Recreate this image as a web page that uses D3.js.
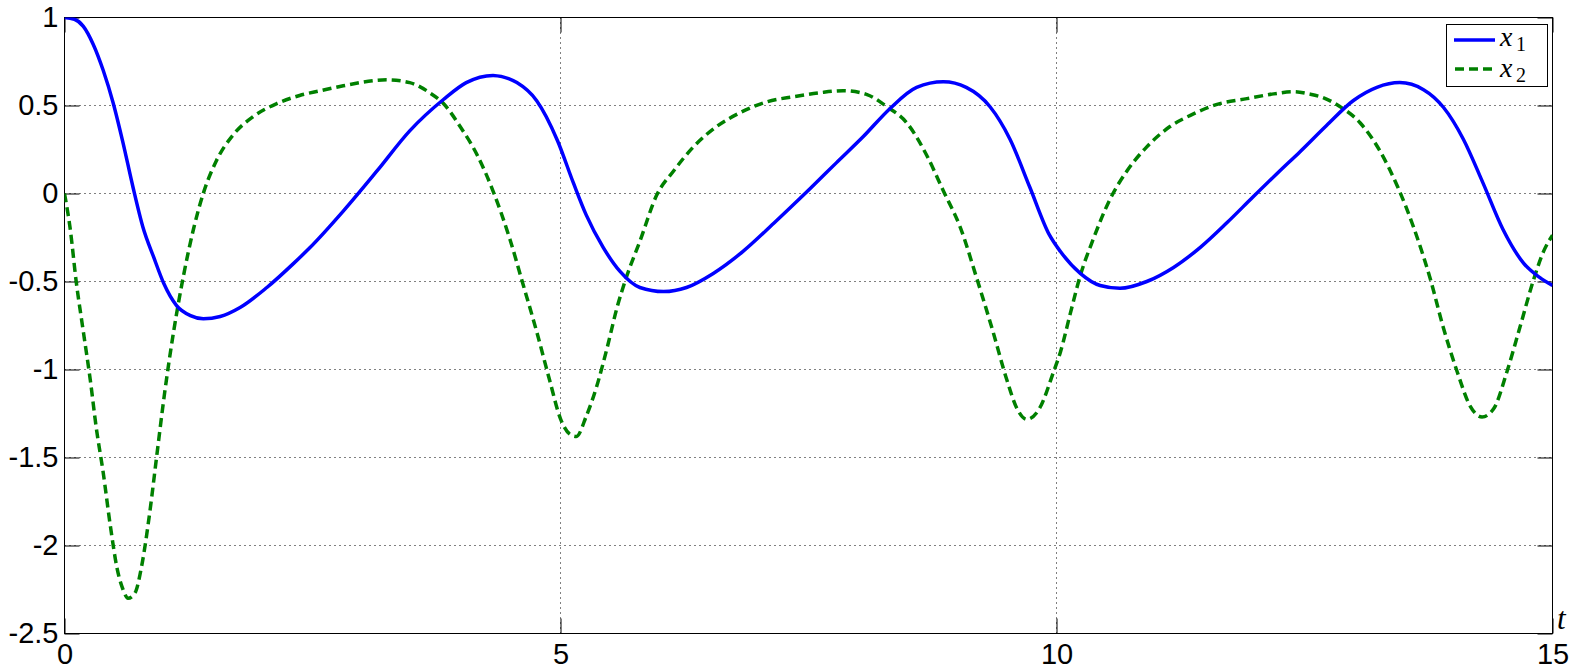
<!DOCTYPE html>
<html>
<head>
<meta charset="utf-8">
<script src="https://cdn.jsdelivr.net/npm/d3@7"></script>
<style>
  html, body { margin: 0; padding: 0; background: #fff; }
  svg { display: block; }
</style>
</head>
<body>
<svg id="chart" width="1578" height="669"></svg>
<script>
// ---- data ----
const x1T = [0, 0.1, 0.19, 0.29, 0.39, 0.49, 0.59, 0.69, 0.79, 0.90, 1.0, 1.13, 1.27, 1.40, 1.57, 1.77, 2.04, 2.31, 2.47, 2.81, 3.15, 3.48, 3.82, 4.05, 4.32, 4.56, 4.76, 4.97, 5.13, 5.26, 5.43, 5.60, 5.80, 6.04, 6.27, 6.54, 6.84, 7.15, 7.41, 7.52, 7.78, 8.05, 8.32, 8.59, 8.86, 9.09, 9.33, 9.53, 9.73, 9.93, 10.04, 10.24, 10.44, 10.64, 10.91, 11.18, 11.45, 11.72, 11.98, 12.25, 12.45, 12.72, 12.99, 13.23, 13.46, 13.70, 13.90, 14.10, 14.30, 14.50, 14.71, 14.87, 15.0];
const x1V = [1, 0.99, 0.95, 0.847, 0.70, 0.516, 0.288, 0.037, -0.19, -0.363, -0.51, -0.637, -0.694, -0.712, -0.699, -0.648, -0.534, -0.397, -0.31, -0.10, 0.128, 0.356, 0.534, 0.63, 0.671, 0.63, 0.527, 0.30, 0.06, -0.123, -0.306, -0.443, -0.534, -0.557, -0.534, -0.454, -0.329, -0.169, -0.03, 0.03, 0.174, 0.322, 0.482, 0.603, 0.635, 0.603, 0.493, 0.31, 0.037, -0.237, -0.33, -0.454, -0.523, -0.539, -0.50, -0.42, -0.306, -0.165, -0.02, 0.128, 0.235, 0.385, 0.527, 0.603, 0.63, 0.59, 0.49, 0.31, 0.059, -0.203, -0.397, -0.477, -0.523];

const x2T = [0, 0.055, 0.12, 0.19, 0.26, 0.32, 0.39, 0.46, 0.53, 0.59, 0.64, 0.71, 0.78, 0.86, 0.93, 1.01, 1.10, 1.20, 1.30, 1.40, 1.53, 1.70, 1.90, 2.14, 2.37, 2.58, 2.81, 3.25, 3.48, 3.68, 3.82, 3.99, 4.16, 4.32, 4.49, 4.62, 4.76, 4.89, 5.0, 5.10, 5.16, 5.26, 5.36, 5.47, 5.57, 5.67, 5.80, 5.97, 6.14, 6.34, 6.57, 6.81, 7.08, 7.35, 7.62, 7.85, 8.09, 8.29, 8.49, 8.69, 8.86, 9.03, 9.20, 9.36, 9.50, 9.60, 9.70, 9.83, 9.97, 10.04, 10.14, 10.24, 10.37, 10.54, 10.71, 10.91, 11.14, 11.38, 11.61, 11.92, 12.19, 12.39, 12.55, 12.66, 12.86, 13.06, 13.26, 13.44, 13.60, 13.77, 13.90, 14.04, 14.17, 14.29, 14.41, 14.54, 14.67, 14.81, 14.91, 15.0];
const x2V = [0, -0.19, -0.51, -0.785, -1.06, -1.33, -1.585, -1.88, -2.13, -2.25, -2.30, -2.27, -2.11, -1.81, -1.49, -1.13, -0.785, -0.466, -0.203, 0.002, 0.185, 0.333, 0.436, 0.511, 0.557, 0.584, 0.612, 0.646, 0.63, 0.573, 0.511, 0.379, 0.219, 0.014, -0.26, -0.511, -0.785, -1.06, -1.28, -1.37, -1.38, -1.265, -1.105, -0.877, -0.648, -0.466, -0.272, -0.009, 0.128, 0.265, 0.379, 0.459, 0.521, 0.55, 0.573, 0.584, 0.562, 0.493, 0.402, 0.219, 0.014, -0.192, -0.489, -0.785, -1.06, -1.22, -1.283, -1.22, -1.014, -0.90, -0.68, -0.466, -0.26, -0.032, 0.128, 0.265, 0.379, 0.452, 0.505, 0.539, 0.566, 0.578, 0.565, 0.55, 0.493, 0.402, 0.242, 0.037, -0.192, -0.489, -0.763, -1.014, -1.208, -1.27, -1.22, -1.014, -0.763, -0.489, -0.329, -0.237];

const xTicks = [0, 5, 10, 15];
const yTicks = [1, 0.5, 0, -0.5, -1, -1.5, -2, -2.5];
const seriesNames = ["x", "x"];
const seriesSubs = ["1", "2"];
const axisLabel = "t";

// ---- drawing ----
const svg = d3.select("#chart");
const L = 64.5, R = 1552.5, T = 17.5, B = 633.5;
const x = d3.scaleLinear().domain([0, 15]).range([L, R]);
const y = d3.scaleLinear().domain([-2.5, 1]).range([B, T]);

svg.append("defs").append("clipPath").attr("id", "clip")
  .append("rect").attr("x", L).attr("y", T).attr("width", R - L).attr("height", B - T);

// grid
const grid = svg.append("g").attr("stroke", "#000").attr("stroke-width", 1)
  .attr("stroke-dasharray", "1,4").attr("fill", "none");
grid.selectAll("line.gy").data(yTicks.filter(v => v > -2.5 && v < 1)).join("line")
  .attr("x1", L).attr("x2", R).attr("y1", d => y(d)).attr("y2", d => y(d));
grid.selectAll("line.gx").data(xTicks.filter(v => v > 0 && v < 15)).join("line")
  .attr("y1", T).attr("y2", B).attr("x1", d => x(d)).attr("x2", d => x(d));

const fontAx = "'Liberation Sans', Arial, sans-serif";
function styleAxis(g, showText) {
  g.select(".domain").remove();
  g.selectAll(".tick line").attr("stroke", "#000").attr("stroke-width", 1);
  g.selectAll(".tick text").attr("fill", "#000").style("font-family", fontAx).style("font-size", "29px");
  if (!showText) g.selectAll(".tick text").remove();
}
const fmt = d => String(d);
svg.append("g").attr("transform", `translate(${L},0)`)
  .call(d3.axisLeft(y).tickValues(yTicks).tickSize(-15).tickPadding(6).tickFormat(fmt))
  .call(g => styleAxis(g, true));
svg.append("g").attr("transform", `translate(${R},0)`)
  .call(d3.axisRight(y).tickValues(yTicks).tickSize(-15).tickFormat(fmt))
  .call(g => styleAxis(g, false));
svg.append("g").attr("transform", `translate(0,${B})`)
  .call(d3.axisBottom(x).tickValues(xTicks).tickSize(-15).tickPadding(10).tickFormat(fmt))
  .call(g => styleAxis(g, true));
svg.append("g").attr("transform", `translate(0,${T})`)
  .call(d3.axisTop(x).tickValues(xTicks).tickSize(-15).tickFormat(fmt))
  .call(g => styleAxis(g, false));

// box
svg.append("rect").attr("x", L).attr("y", T).attr("width", R - L).attr("height", B - T)
  .attr("fill", "none").attr("stroke", "#000").attr("stroke-width", 1);

// lines
const line = d3.line().x(d => x(d[0])).y(d => y(d[1])).curve(d3.curveMonotoneX);
const s1 = x1T.map((t, i) => [t, x1V[i]]);
const s2 = x2T.map((t, i) => [t, x2V[i]]);
const plot = svg.append("g").attr("clip-path", "url(#clip)");
plot.append("path").datum(s2).attr("d", line).attr("fill", "none")
  .attr("stroke", "#008000").attr("stroke-width", 3.5).attr("stroke-dasharray", "9,5");
plot.append("path").datum(s1).attr("d", line).attr("fill", "none")
  .attr("stroke", "#0000ff").attr("stroke-width", 3.5);

// t label
const serif = "'Liberation Serif', 'DejaVu Serif', serif";
svg.append("text").attr("x", 1557).attr("y", 629).text(axisLabel)
  .style("font-family", serif).style("font-style", "italic").style("font-size", "31px").attr("fill", "#000");

// legend
const lg = svg.append("g");
lg.append("rect").attr("x", 1446.5).attr("y", 24.5).attr("width", 101).attr("height", 62)
  .attr("fill", "#fff").attr("stroke", "#000").attr("stroke-width", 1);
const legendStyles = [
  { color: "#0000ff", dash: null, y: 40, x0: 1454, base: 46 },
  { color: "#008000", dash: "9,5", y: 69, x0: 1455, base: 77 }
];
legendStyles.forEach((s, i) => {
  lg.append("line").attr("x1", s.x0).attr("x2", 1495).attr("y1", s.y).attr("y2", s.y)
    .attr("stroke", s.color).attr("stroke-width", 3.5).attr("stroke-dasharray", s.dash);
  lg.append("text").attr("x", 1500).attr("y", s.base)
    .style("font-family", serif).style("font-style", "italic").style("font-size", "28px")
    .attr("fill", "#000").text(seriesNames[i]);
  lg.append("text").attr("x", 1516).attr("y", s.base + 5)
    .style("font-family", serif).style("font-size", "20px")
    .attr("fill", "#000").text(seriesSubs[i]);
});
</script>
</body>
</html>
